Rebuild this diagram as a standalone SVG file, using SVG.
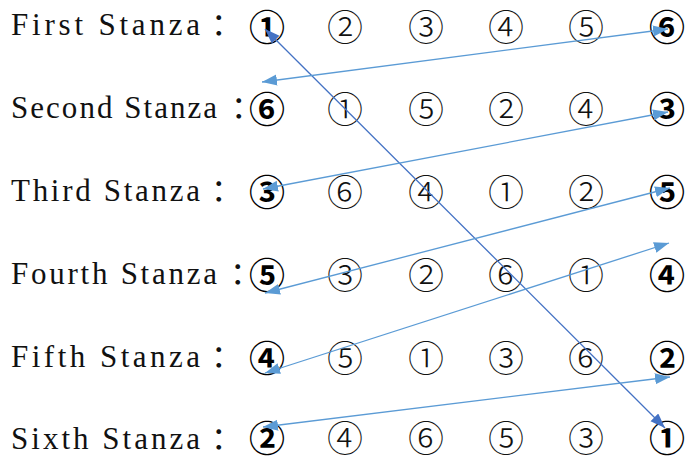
<svg xmlns="http://www.w3.org/2000/svg" width="685" height="459" viewBox="0 0 685 459">
<defs>
<style>
.lbl{font-family:"Liberation Serif","Noto Sans CJK SC",serif;font-size:31px;fill:#111;}
.col{font-family:"Liberation Serif","Noto Sans CJK SC",sans-serif;font-size:31px;letter-spacing:-15px;}
.n{font-family:"Liberation Sans","Noto Sans CJK JP",sans-serif;font-size:36px;fill:#111;text-anchor:middle;font-weight:300;}
.b{font-family:"Liberation Sans","Noto Sans CJK JP",sans-serif;font-size:36px;fill:#000;text-anchor:middle;font-weight:700;}
.lb{fill:none;stroke:#5B9BD5;stroke-width:1.3;marker-start:url(#ahL);marker-end:url(#ahL);}
.db{fill:none;stroke:#4472C4;stroke-width:1.3;marker-start:url(#ahD);marker-end:url(#ahD);}
</style>
<marker id="ahL" markerUnits="userSpaceOnUse" markerWidth="16" markerHeight="12" refX="15" refY="5.5" orient="auto-start-reverse"><path d="M0,0 L15,5.5 L0,11 z" fill="#5B9BD5"/></marker>
<marker id="ahD" markerUnits="userSpaceOnUse" markerWidth="16" markerHeight="12" refX="15" refY="5.5" orient="auto-start-reverse"><path d="M0,0 L15,5.5 L0,11 z" fill="#4472C4"/></marker>
</defs>
<rect width="685" height="459" fill="#fff"/>
<g id="row1">
<text class="lbl" x="11" y="35"><tspan textLength="189" lengthAdjust="spacing">First Stanza</tspan><tspan class="col" x="211">：</tspan></text>
<g id="r1c1"><text class="b" x="267" y="40.8">①</text></g>
<g id="r1c2"><text class="n" x="345" y="40.8">②</text></g>
<g id="r1c3"><text class="n" x="426" y="40.8">③</text></g>
<g id="r1c4"><text class="n" x="506" y="40.8">④</text></g>
<g id="r1c5"><text class="n" x="586" y="40.8">⑤</text></g>
<g id="r1c6"><text class="b" x="667" y="40.8">⑥</text></g>
</g>
<g id="row2">
<text class="lbl" x="11" y="118"><tspan textLength="206" lengthAdjust="spacing">Second Stanza</tspan><tspan class="col" x="231">：</tspan></text>
<g id="r2c1"><text class="b" x="267" y="122.8">⑥</text></g>
<g id="r2c2"><text class="n" x="345" y="122.8">①</text></g>
<g id="r2c3"><text class="n" x="426" y="122.8">⑤</text></g>
<g id="r2c4"><text class="n" x="506" y="122.8">②</text></g>
<g id="r2c5"><text class="n" x="586" y="122.8">④</text></g>
<g id="r2c6"><text class="b" x="667" y="122.8">③</text></g>
</g>
<g id="row3">
<text class="lbl" x="11" y="201"><tspan textLength="189" lengthAdjust="spacing">Third Stanza</tspan><tspan class="col" x="211">：</tspan></text>
<g id="r3c1"><text class="b" x="267" y="205.8">③</text></g>
<g id="r3c2"><text class="n" x="345" y="205.8">⑥</text></g>
<g id="r3c3"><text class="n" x="426" y="205.8">④</text></g>
<g id="r3c4"><text class="n" x="506" y="205.8">①</text></g>
<g id="r3c5"><text class="n" x="586" y="205.8">②</text></g>
<g id="r3c6"><text class="b" x="667" y="205.8">⑤</text></g>
</g>
<g id="row4">
<text class="lbl" x="11" y="284"><tspan textLength="206" lengthAdjust="spacing">Fourth Stanza</tspan><tspan class="col" x="230">：</tspan></text>
<g id="r4c1"><text class="b" x="267" y="288.8">⑤</text></g>
<g id="r4c2"><text class="n" x="345" y="288.8">③</text></g>
<g id="r4c3"><text class="n" x="426" y="288.8">②</text></g>
<g id="r4c4"><text class="n" x="506" y="288.8">⑥</text></g>
<g id="r4c5"><text class="n" x="586" y="288.8">①</text></g>
<g id="r4c6"><text class="b" x="667" y="288.8">④</text></g>
</g>
<g id="row5">
<text class="lbl" x="11" y="367"><tspan textLength="189" lengthAdjust="spacing">Fifth Stanza</tspan><tspan class="col" x="211">：</tspan></text>
<g id="r5c1"><text class="b" x="267" y="371.8">④</text></g>
<g id="r5c2"><text class="n" x="345" y="371.8">⑤</text></g>
<g id="r5c3"><text class="n" x="426" y="371.8">①</text></g>
<g id="r5c4"><text class="n" x="506" y="371.8">③</text></g>
<g id="r5c5"><text class="n" x="586" y="371.8">⑥</text></g>
<g id="r5c6"><text class="b" x="667" y="371.8">②</text></g>
</g>
<g id="row6">
<text class="lbl" x="11" y="449"><tspan textLength="189" lengthAdjust="spacing">Sixth Stanza</tspan><tspan class="col" x="211">：</tspan></text>
<g id="r6c1"><text class="b" x="267" y="451.5">②</text></g>
<g id="r6c2"><text class="n" x="345" y="451.5">④</text></g>
<g id="r6c3"><text class="n" x="426" y="451.5">⑥</text></g>
<g id="r6c4"><text class="n" x="506" y="451.5">⑤</text></g>
<g id="r6c5"><text class="n" x="586" y="451.5">③</text></g>
<g id="r6c6"><text class="b" x="667" y="451.5">①</text></g>
</g>
<g id="connectors">
<line class="db" x1="265" y1="29" x2="665" y2="428"/>
<line class="lb" x1="262" y1="82" x2="668" y2="29"/>
<line class="lb" x1="263" y1="189" x2="668" y2="112"/>
<line class="lb" x1="265" y1="293" x2="670" y2="188"/>
<line class="lb" x1="265" y1="373" x2="669" y2="243"/>
<line class="lb" x1="263" y1="427" x2="670" y2="377"/>
</g>
</svg>
